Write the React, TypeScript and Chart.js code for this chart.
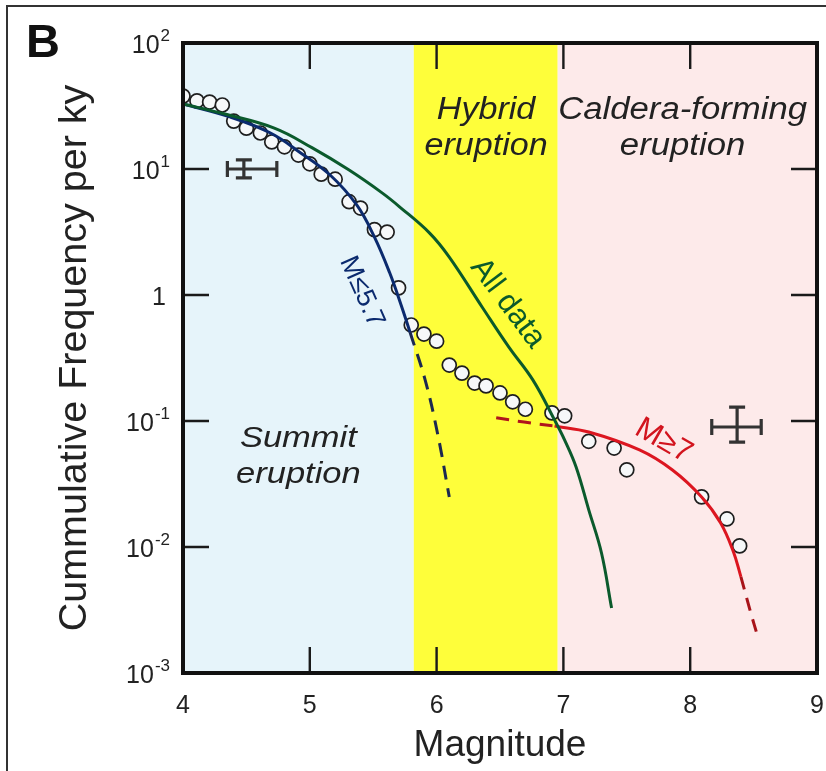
import React, { useEffect, useRef } from 'react';
import { Chart, registerables } from 'chart.js';

Chart.register(...registerables);

// ---------- data ----------
const magnitudes = [
  4.0, 4.11, 4.21, 4.31, 4.4, 4.5, 4.61, 4.7, 4.8, 4.91, 5.0, 5.09, 5.2, 5.31, 5.4, 5.51, 5.61, 5.7,
  5.8, 5.9, 6.0, 6.1, 6.2, 6.3, 6.39, 6.5, 6.6, 6.7, 6.91, 7.01, 7.2, 7.4, 7.5, 8.09, 8.29, 8.39,
];
const frequencies = [
  37.9, 34.7, 34.0, 32.2, 24.0, 21.1, 19.3, 16.4, 15.0, 12.9, 11.0, 9.1, 8.3, 5.5, 4.9, 3.3, 3.16, 1.14,
  0.578, 0.49, 0.43, 0.278, 0.24, 0.2, 0.19, 0.167, 0.142, 0.124, 0.116, 0.11, 0.069, 0.061, 0.041, 0.025, 0.0167, 0.0102,
];

const allDataFitX = [4.0, 4.33, 4.72, 5.02, 5.31, 5.57, 5.71, 5.945, 6.1, 6.36, 6.57, 6.76, 6.93, 7.01, 7.1, 7.2, 7.3, 7.38];
const allDataFitY = [32.8, 27.3, 21.1, 14.7, 9.8, 6.46, 4.99, 3.1, 2.0, 0.8, 0.386, 0.211, 0.102, 0.0706, 0.0432, 0.0197, 0.009, 0.00328];

const smallFitX = [4.0, 4.37, 4.69, 4.92, 5.16, 5.37, 5.51, 5.63, 5.72, 5.79];
const smallFitY = [32.8, 25.9, 19.3, 13.6, 8.96, 5.18, 2.88, 1.5, 0.834, 0.508];
const smallFitExtX = [5.79, 5.91, 6.01, 6.1];
const smallFitExtY = [0.508, 0.211, 0.0774, 0.0249];

const largeFitExtLowX = [6.47, 6.69, 6.93];
const largeFitExtLowY = [0.106, 0.098, 0.0912];
const largeFitX = [6.93, 7.2, 7.6, 7.86, 8.09, 8.24, 8.34, 8.4];
const largeFitY = [0.0912, 0.0818, 0.0589, 0.0408, 0.0249, 0.0155, 0.0092, 0.0058];
const largeFitExtHighX = [8.4, 8.47, 8.54];
const largeFitExtHighY = [0.0058, 0.0032, 0.00183];

const errorBarX = [4.48, 8.37];
const errorBarY = [10, 0.0896];
const errorBarXLow = [4.35, 8.17];
const errorBarXHigh = [4.74, 8.56];
const errorBarYLow = [8.5, 0.068];
const errorBarYHigh = [11.8, 0.129];

const regionBounds = [4, 5.82, 6.955, 9];
const regionTitles = [
  ['Summit', 'eruption'],
  ['Hybrid', 'eruption'],
  ['Caldera-forming', 'eruption'],
];

const xTickValues = [4, 5, 6, 7, 8, 9];
const xTickLabels = ['4', '5', '6', '7', '8', '9'];
const yTickValues = [0.001, 0.01, 0.1, 1, 10, 100];
const yTickBases = ['10', '10', '10', '1', '10', '10'];
const yTickExps = ['-3', '-2', '-1', '', '1', '2'];

// ---------- styles / annotation placement ----------
const FONT = '"Liberation Sans", Arial, Helvetica, sans-serif';
const regionColors = ['#e6f4fa', '#fefe3a', '#fdeaea'];
const regionTitlePos = [
  { x: 4.91, y: 0.072, size: 30, sx: 1.15 },
  { x: 6.39, y: 29.4, size: 31, sx: 1.1 },
  { x: 7.94, y: 29.4, size: 31, sx: 1.12 },
];
const curveLabels = [
  { text: 'M≤5.7', x: 5.41, y: 1.06, angle: 66, color: '#0b2a6e', size: 27 },
  { text: 'All data', x: 6.56, y: 0.86, angle: 53, color: '#0b5a2c', size: 31 },
  { text: 'M≥7', x: 7.79, y: 0.0693, angle: 30, color: '#d2141e', size: 31 },
];

const figurePlugin = {
  id: 'figurePlugin',
  beforeDraw(chart: any) {
    const { ctx, chartArea: a, scales } = chart;
    const x = scales.x;
    ctx.save();
    ctx.fillStyle = '#ffffff';
    ctx.fillRect(0, 0, chart.width, chart.height);
    // outer figure frame
    ctx.strokeStyle = '#333';
    ctx.lineWidth = 2;
    ctx.beginPath();
    ctx.moveTo(7, chart.height + 5);
    ctx.lineTo(7, 6);
    ctx.lineTo(chart.width + 5, 6);
    ctx.stroke();
    // regions
    for (let i = 0; i < regionColors.length; i++) {
      const x0 = x.getPixelForValue(regionBounds[i]);
      const x1 = x.getPixelForValue(regionBounds[i + 1]);
      ctx.fillStyle = regionColors[i];
      ctx.fillRect(x0, a.top, x1 - x0, a.bottom - a.top);
    }
    // region titles
    ctx.fillStyle = '#222';
    ctx.textAlign = 'center';
    ctx.textBaseline = 'middle';
    regionTitles.forEach((lines, i) => {
      const p = regionTitlePos[i];
      const px = x.getPixelForValue(p.x);
      const py = scales.y.getPixelForValue(p.y);
      ctx.font = `italic ${p.size}px ${FONT}`;
      lines.forEach((t, j) => {
        ctx.save();
        ctx.translate(px, py + j * 36);
        ctx.scale(p.sx, 1);
        ctx.fillText(t, 0, 0);
        ctx.restore();
      });
    });
    ctx.restore();
  },
  afterDatasetsDraw(chart: any) {
    const { ctx, chartArea: a, scales } = chart;
    const x = scales.x;
    const y = scales.y;
    ctx.save();
    // curve labels
    ctx.textAlign = 'center';
    ctx.textBaseline = 'middle';
    curveLabels.forEach((l) => {
      ctx.save();
      ctx.translate(x.getPixelForValue(l.x), y.getPixelForValue(l.y));
      ctx.rotate((l.angle * Math.PI) / 180);
      ctx.fillStyle = l.color;
      ctx.font = `${l.size}px ${FONT}`;
      ctx.fillText(l.text, 0, 0);
      ctx.restore();
    });
    // error bars
    ctx.strokeStyle = '#333';
    ctx.lineWidth = 3.2;
    for (let i = 0; i < errorBarX.length; i++) {
      const cx = x.getPixelForValue(errorBarX[i]);
      const cy = y.getPixelForValue(errorBarY[i]);
      const xl = x.getPixelForValue(errorBarXLow[i]);
      const xh = x.getPixelForValue(errorBarXHigh[i]);
      const yl = y.getPixelForValue(errorBarYLow[i]);
      const yh = y.getPixelForValue(errorBarYHigh[i]);
      const cap = 8;
      ctx.beginPath();
      ctx.moveTo(xl, cy); ctx.lineTo(xh, cy);
      ctx.moveTo(xl, cy - cap); ctx.lineTo(xl, cy + cap);
      ctx.moveTo(xh, cy - cap); ctx.lineTo(xh, cy + cap);
      ctx.moveTo(cx, yl); ctx.lineTo(cx, yh);
      ctx.moveTo(cx - cap, yl); ctx.lineTo(cx + cap, yl);
      ctx.moveTo(cx - cap, yh); ctx.lineTo(cx + cap, yh);
      ctx.stroke();
    }
    // inside tick marks
    ctx.strokeStyle = '#1a1a1a';
    ctx.lineWidth = 2.4;
    const tl = 26;
    ctx.beginPath();
    x.ticks.forEach((t: any) => {
      if (t.value <= x.min || t.value >= x.max) return;
      const px = x.getPixelForValue(t.value);
      ctx.moveTo(px, a.bottom); ctx.lineTo(px, a.bottom - tl);
      ctx.moveTo(px, a.top); ctx.lineTo(px, a.top + tl);
    });
    y.ticks.forEach((t: any) => {
      if (t.value <= y.min || t.value >= y.max) return;
      const py = y.getPixelForValue(t.value);
      ctx.moveTo(a.left, py); ctx.lineTo(a.left + tl, py);
      ctx.moveTo(a.right, py); ctx.lineTo(a.right - tl, py);
    });
    ctx.stroke();
    // frame
    ctx.strokeStyle = '#111';
    ctx.lineWidth = 4;
    ctx.strokeRect(a.left, a.top, a.right - a.left, a.bottom - a.top);
    // tick labels
    ctx.fillStyle = '#222';
    ctx.textBaseline = 'middle';
    ctx.textAlign = 'center';
    ctx.font = `25px ${FONT}`;
    xTickValues.forEach((v, i) => {
      ctx.fillText(xTickLabels[i], x.getPixelForValue(v), a.bottom + 33);
    });
    yTickValues.forEach((v, i) => {
      const py = y.getPixelForValue(v) + 3;
      const right = a.left - 13;
      ctx.textAlign = 'right';
      if (yTickExps[i]) {
        ctx.font = `17px ${FONT}`;
        const w = ctx.measureText(yTickExps[i]).width;
        ctx.fillText(yTickExps[i], right, py - 10);
        ctx.font = `25px ${FONT}`;
        ctx.fillText(yTickBases[i], right - w - 1, py);
      } else {
        ctx.font = `25px ${FONT}`;
        ctx.fillText(yTickBases[i], right - 4, py);
      }
    });
    // panel letter
    ctx.font = `bold 47px ${FONT}`;
    ctx.textAlign = 'center';
    ctx.textBaseline = 'alphabetic';
    ctx.fillStyle = '#111';
    ctx.fillText('B', 43, 57);
    ctx.restore();
  },
};

const toXY = (xs: number[], ys: number[]) => xs.map((v, i) => ({ x: v, y: ys[i] }));

const lineDs = (label: string, xs: number[], ys: number[], color: string, dash: number[] = []) => ({
  label,
  data: toXY(xs, ys),
  showLine: true,
  borderColor: color,
  borderWidth: 3,
  borderDash: dash,
  pointRadius: 0,
  tension: 0.4,
  fill: false,
  order: 1,
});

export default function App() {
  const ref = useRef<HTMLCanvasElement>(null);
  useEffect(() => {
    if (!ref.current) return;
    const chart = new Chart(ref.current, {
      type: 'scatter',
      data: {
        datasets: [
          {
            label: 'Observed',
            data: toXY(magnitudes, frequencies),
            pointRadius: 7,
            pointBorderWidth: 1.7,
            pointBorderColor: '#1e1e1e',
            pointBackgroundColor: '#f6f8f9',
            showLine: false,
            order: 2,
          } as any,
          lineDs('All data', allDataFitX, allDataFitY, '#0b5a2c'),
          lineDs('M≤5.7', smallFitX, smallFitY, '#0b2a6e'),
          lineDs('M≤5.7 ext', smallFitExtX, smallFitExtY, '#1c2850', [14, 9]),
          lineDs('M≥7 ext low', largeFitExtLowX, largeFitExtLowY, '#b0141c', [13, 9]),
          lineDs('M≥7', largeFitX, largeFitY, '#dc1620'),
          lineDs('M≥7 ext high', largeFitExtHighX, largeFitExtHighY, '#a8141a', [13, 9]),
        ],
      },
      options: {
        responsive: false,
        animation: false,
        devicePixelRatio: 1,
        layout: { padding: { top: 43, right: 9, left: 0, bottom: 0 } },
        plugins: { legend: { display: false }, tooltip: { enabled: false } },
        scales: {
          x: {
            type: 'linear',
            min: 4,
            max: 9,
            ticks: { display: false, stepSize: 1 },
            grid: { display: false },
            border: { display: false },
            title: {
              display: true,
              text: 'Magnitude',
              color: '#222',
              font: { family: FONT, size: 37 },
              padding: { top: 0, bottom: 3 },
            },
            afterBuildTicks: (s: any) => {
              s.ticks = xTickValues.map((v) => ({ value: v }));
            },
            afterFit: (s: any) => {
              s.height = 98;
            },
          },
          y: {
            type: 'logarithmic',
            min: 0.001,
            max: 100,
            ticks: { display: false },
            grid: { display: false },
            border: { display: false },
            title: {
              display: true,
              text: 'Cummulative Frequency per ky',
              color: '#222',
              font: { family: FONT, size: 39.5 },
              padding: { top: 51, bottom: 0 },
            },
            afterBuildTicks: (s: any) => {
              s.ticks = yTickValues.map((v) => ({ value: v }));
            },
            afterFit: (s: any) => {
              s.width = 183;
            },
          },
        },
      },
      plugins: [figurePlugin],
    });
    return () => chart.destroy();
  }, []);
  return (
    <div style={{ position: 'fixed', left: 0, top: 0, width: 826, height: 771, background: '#fff' }}>
      <canvas ref={ref} width={826} height={771} style={{ display: 'block', width: 826, height: 771 }} />
    </div>
  );
}
